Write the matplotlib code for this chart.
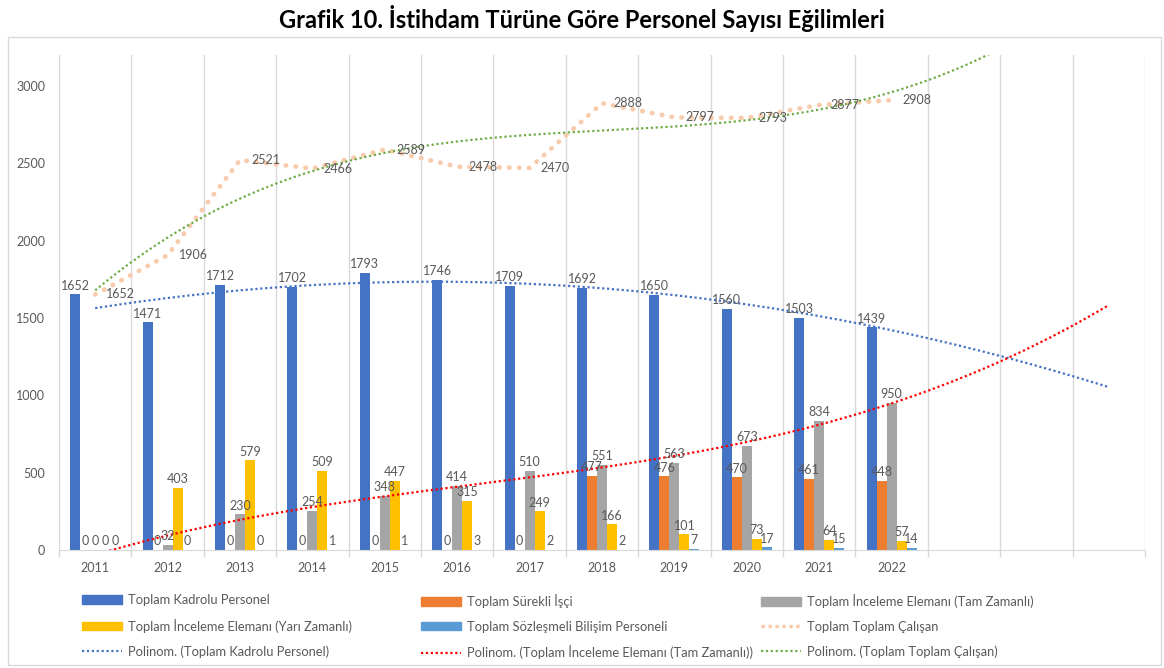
import numpy as np
import matplotlib.pyplot as plt
from matplotlib.patches import Patch, Rectangle
from matplotlib.lines import Line2D

plt.rcParams['font.family'] = ['Lato', 'DejaVu Sans']

# data
years = ['2011', '2012', '2013', '2014', '2015', '2016', '2017', '2018', '2019', '2020', '2021', '2022']
n_slots = 15   # three empty categories for the trendline forecast

kadrolu = [1652, 1471, 1712, 1702, 1793, 1746, 1709, 1692, 1650, 1560, 1503, 1439]
surekli = [0, 0, 0, 0, 0, 0, 0, 477, 476, 470, 461, 448]
tam_zamanli = [0, 32, 230, 254, 348, 414, 510, 551, 563, 673, 834, 950]
yari_zamanli = [0, 403, 579, 509, 447, 315, 249, 166, 101, 73, 64, 57]
bilisim = [0, 0, 0, 1, 1, 3, 2, 2, 7, 17, 15, 14]
toplam = [1652, 1906, 2521, 2466, 2589, 2478, 2470, 2888, 2797, 2793, 2877, 2908]

bar_series = [
    (kadrolu, 'Toplam Kadrolu Personel', '#4472C4'),
    (surekli, 'Toplam Sürekli İşçi', '#ED7D31'),
    (tam_zamanli, 'Toplam İnceleme Elemanı (Tam Zamanlı)', '#A5A5A5'),
    (yari_zamanli, 'Toplam İnceleme Elemanı (Yarı Zamanlı)', '#FFC000'),
    (bilisim, 'Toplam Sözleşmeli Bilişim Personeli', '#5B9BD5'),
]

label_color = '#595959'
grid_color = '#D9D9D9'

fig = plt.figure(figsize=(11.64, 6.68), dpi=100)
ax = fig.add_axes([59 / 1164, 118 / 668, (1145 - 59) / 1164, (550 - 55) / 668])

x = np.arange(len(years))
bw = 0.138
for i, (vals, name, col) in enumerate(bar_series):
    pos = x + (i - 2) * bw
    ax.bar(pos, vals, width=bw, color=col, zorder=2)
    for p, v in zip(pos, vals):
        ax.annotate(str(v), (p, v), xytext=(0, 2), textcoords='offset points',
                    ha='center', va='bottom', fontsize=9, color=label_color, zorder=5)

# total line
ax.plot(x, toplam, color='#F8CBAD', lw=3.4, ls=(0, (0.1, 2.0)),
        dash_capstyle='round', solid_capstyle='round', zorder=3)
for xi, v in zip(x, toplam):
    ax.annotate(str(v), (xi, v), xytext=(8, 0), textcoords='offset points',
                ha='left', va='center', fontsize=9, color=label_color, zorder=5)

# polynomial trendlines (fit on the 12 years, forecast 3 more)
xt = np.linspace(0, n_slots - 1, 300)
trends = [
    (kadrolu, 2, '#4472C4'),
    (tam_zamanli, 3, '#FF0000'),
    (toplam, 3, '#70AD47'),
]
for vals, order, col in trends:
    coef = np.polyfit(x, vals, order)
    ax.plot(xt, np.polyval(coef, xt), color=col, lw=1.6, ls=(0, (1, 1.2)), zorder=4)

ax.set_xlim(-0.5, n_slots - 0.5)
ax.set_ylim(0, 3200)
ax.set_xticks(x)
ax.set_xticklabels(years)
ax.set_xticks(np.arange(n_slots + 1) - 0.5, minor=True)
ax.tick_params(axis='x', which='major', length=0, pad=9, labelsize=9, labelcolor=label_color)
ax.tick_params(axis='x', which='minor', length=5, color=grid_color, width=1)
ax.set_yticks(np.arange(0, 3001, 500))
ax.tick_params(axis='y', length=0, pad=10, labelsize=9, labelcolor=label_color)
ax.grid(axis='x', which='minor', color=grid_color, lw=1, zorder=0)
ax.grid(axis='x', which='major', visible=False)
for s in ['top', 'right', 'left']:
    ax.spines[s].set_visible(False)
ax.spines['bottom'].set_color(grid_color)

fig.text(0.5, 1 - 19 / 668, 'Grafik 10. İstihdam Türüne Göre Personel Sayısı Eğilimleri',
         ha='center', va='center', fontsize=17, fontweight='bold', color='black')

fig.patches.append(Rectangle((8 / 1164, 3 / 668), 1153 / 1164, 628 / 668, transform=fig.transFigure,
                             fill=False, edgecolor=grid_color, lw=1))


def bar_handle(col):
    return Patch(facecolor=col, edgecolor=col)


def line_handle(col, lw, ls):
    return Line2D([], [], color=col, lw=lw, ls=ls)


columns = [
    (82, [(bar_handle('#4472C4'), 'Toplam Kadrolu Personel'),
          (bar_handle('#FFC000'), 'Toplam İnceleme Elemanı (Yarı Zamanlı)'),
          (line_handle('#4472C4', 1.6, (0, (1, 1.2))), 'Polinom. (Toplam Kadrolu Personel)')]),
    (421, [(bar_handle('#ED7D31'), 'Toplam Sürekli İşçi'),
           (bar_handle('#5B9BD5'), 'Toplam Sözleşmeli Bilişim Personeli'),
           (line_handle('#FF0000', 1.6, (0, (1, 1.2))), 'Polinom. (Toplam İnceleme Elemanı (Tam Zamanlı))')]),
    (761, [(bar_handle('#A5A5A5'), 'Toplam İnceleme Elemanı (Tam Zamanlı)'),
           (line_handle('#F8CBAD', 2.5, (0, (1, 1))), 'Toplam Toplam Çalışan'),
           (line_handle('#70AD47', 1.6, (0, (1, 1.2))), 'Polinom. (Toplam Toplam Çalışan)')]),
]
for left, items in columns:
    fig.legend([h for h, _ in items], [t for _, t in items], loc='upper left',
               bbox_to_anchor=(left / 1164, 1 - 594 / 668), frameon=False, fontsize=9.3,
               labelcolor=label_color, handlelength=3.1, handleheight=0.65,
               handletextpad=0.45, labelspacing=0.98, borderpad=0, borderaxespad=0)

fig.savefig('out.png', dpi=100)
